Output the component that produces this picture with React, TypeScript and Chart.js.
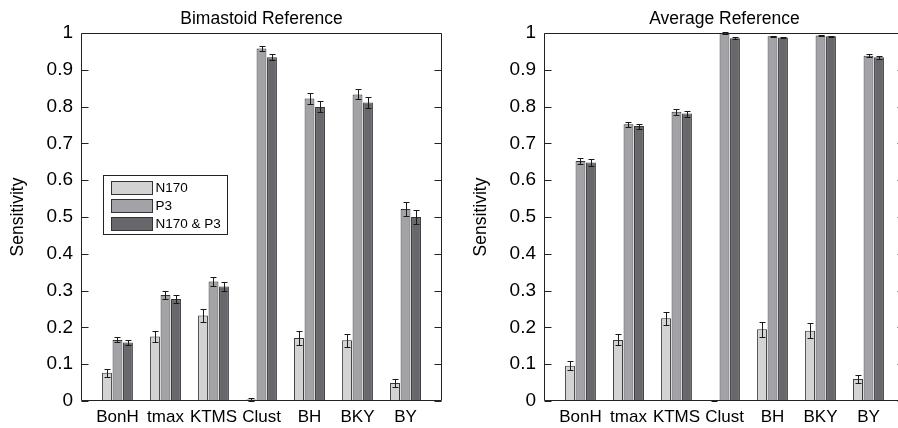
import React, { useEffect, useRef } from "react";
import { Chart, registerables } from "chart.js";

Chart.register(...registerables);

const FONT = '"Liberation Sans", Arial, Helvetica, sans-serif';

const categories = ["BonH", "tmax", "KTMS", "Clust", "BH", "BKY", "BY"];
const seriesNames = ["N170", "P3", "N170 & P3"];
const seriesColors = ["#d3d3d3", "#a3a3a7", "#67686c"];
const yTickValues = [0, 0.1, 0.2, 0.3, 0.4, 0.5, 0.6, 0.7, 0.8, 0.9, 1];
const titles = ["Bimastoid Reference", "Average Reference"];
const yAxisTitle = "Sensitivity";

// Bimastoid reference
const bimastoidN170 = [0.077, 0.175, 0.232, 0.004, 0.171, 0.165, 0.049];
const bimastoidN170Err = [0.0105, 0.016, 0.018, 0.003, 0.0195, 0.018, 0.011];
const bimastoidP3 = [0.166, 0.288, 0.325, 0.958, 0.822, 0.833, 0.522];
const bimastoidP3Err = [0.007, 0.011, 0.012, 0.007, 0.014, 0.0135, 0.018];
const bimastoidBoth = [0.159, 0.277, 0.311, 0.934, 0.799, 0.811, 0.5];
const bimastoidBothErr = [0.008, 0.0105, 0.012, 0.008, 0.015, 0.015, 0.019];

// Average reference
const averageN170 = [0.096, 0.166, 0.225, 0.001, 0.195, 0.191, 0.06];
const averageN170Err = [0.012, 0.015, 0.018, 0.001, 0.02, 0.02, 0.012];
const averageP3 = [0.652, 0.752, 0.786, 1.0, 0.991, 0.993, 0.938];
const averageP3Err = [0.009, 0.007, 0.008, 0.002, 0.002, 0.002, 0.004];
const averageBoth = [0.648, 0.747, 0.781, 0.986, 0.988, 0.991, 0.934];
const averageBothErr = [0.009, 0.007, 0.008, 0.002, 0.002, 0.002, 0.004];

const CANVAS_W = 470;
const CANVAS_H = 428;

const decorPlugin = {
  id: "decor",
  afterDatasetsDraw(chart: any, _args: any, opts: any) {
    const { ctx, chartArea: a } = chart;
    const y = chart.scales.y;
    ctx.save();
    // error bars
    ctx.strokeStyle = "#1a1a1a";
    ctx.lineWidth = 1;
    chart.data.datasets.forEach((ds: any, i: number) => {
      const meta = chart.getDatasetMeta(i);
      const errs = opts.errors[i];
      meta.data.forEach((bar: any, j: number) => {
        const v = ds.data[j].y;
        const e = errs[j];
        const cx = Math.round(bar.x) + 0.5;
        const yt = Math.round(y.getPixelForValue(v + e)) + 0.5;
        const yb = Math.round(y.getPixelForValue(Math.max(0, v - e))) + 0.5;
        ctx.beginPath();
        ctx.moveTo(cx, yt);
        ctx.lineTo(cx, yb);
        ctx.moveTo(cx - 3, yt);
        ctx.lineTo(cx + 3, yt);
        ctx.moveTo(cx - 3, yb);
        ctx.lineTo(cx + 3, yb);
        ctx.stroke();
      });
    });
    // box
    const L = Math.round(a.left) + 0.5;
    const R = Math.round(a.right) - 0.5;
    const T = Math.round(a.top) + 0.5;
    const B = Math.round(a.bottom) - 0.5;
    ctx.strokeStyle = "#222";
    ctx.lineWidth = 1;
    ctx.beginPath();
    ctx.rect(L, T, R - L, B - T);
    ctx.stroke();
    // inner ticks
    ctx.beginPath();
    yTickValues.forEach((v) => {
      const py = Math.round(y.getPixelForValue(v)) + 0.5;
      ctx.moveTo(L, py);
      ctx.lineTo(L + 7, py);
      ctx.moveTo(R, py);
      ctx.lineTo(R - 7, py);
    });
    ctx.stroke();
    // title
    ctx.fillStyle = "#000";
    ctx.font = `17.5px ${FONT}`;
    ctx.textAlign = "center";
    ctx.textBaseline = "alphabetic";
    ctx.fillText(opts.title, (a.left + a.right) / 2, 24);
    // y axis title
    ctx.save();
    ctx.translate(a.left - 63, (a.top + a.bottom) / 2);
    ctx.rotate(-Math.PI / 2);
    ctx.textBaseline = "middle";
    ctx.font = `17.5px ${FONT}`;
    ctx.fillText(yAxisTitle, 0, 0);
    ctx.restore();
    // legend
    if (opts.legend) {
      const lx = Math.round(a.left) + 22 + 0.5;
      const ly = Math.round(a.top) + 142 + 0.5;
      ctx.fillStyle = "#fff";
      ctx.fillRect(lx, ly, 124, 59);
      ctx.strokeStyle = "#222";
      ctx.strokeRect(lx, ly, 124, 59);
      ctx.font = `13.5px ${FONT}`;
      ctx.textAlign = "left";
      ctx.textBaseline = "middle";
      chart.data.datasets.forEach((ds: any, i: number) => {
        const sy = ly + 5 + i * 18.3;
        const syr = Math.round(sy) + 0.5;
        ctx.fillStyle = ds.backgroundColor;
        ctx.fillRect(lx + 8, syr, 41, 13);
        ctx.strokeStyle = "#333";
        ctx.strokeRect(lx + 8, syr, 41, 13);
        ctx.fillStyle = "#000";
        ctx.fillText(ds.label, lx + 52, syr + 7);
      });
    }
    ctx.restore();
  },
};

function Panel(props: {
  left: number;
  title: string;
  series: number[][];
  errors: number[][];
  legend: boolean;
}) {
  const ref = useRef<HTMLCanvasElement>(null);
  useEffect(() => {
    const chart = new Chart(ref.current as HTMLCanvasElement, {
      type: "bar",
      data: {
        datasets: props.series.map((vals, i) => ({
          label: seriesNames[i],
          data: vals.map((v, j) => ({ x: j + 1, y: v })),
          backgroundColor: seriesColors[i],
          borderColor: "#333",
          borderWidth: 1,
          categoryPercentage: 0.655,
          barPercentage: 0.94,
        })),
      } as any,
      options: {
        responsive: false,
        animation: false,
        devicePixelRatio: 1,
        layout: { padding: { left: 0, right: 14, top: 33, bottom: 0 } },
        plugins: {
          legend: { display: false },
          title: { display: false },
          tooltip: { enabled: false },
          decor: { errors: props.errors, title: props.title, legend: props.legend },
        } as any,
        scales: {
          x: {
            type: "linear",
            min: 0.24,
            max: 7.76,
            offset: false,
            grid: { display: false, drawTicks: false },
            border: { display: false },
            afterBuildTicks: (s: any) => {
              s.ticks = categories.map((_, i) => ({ value: i + 1 }));
            },
            afterFit: (s: any) => {
              s.height = 27;
            },
            ticks: {
              autoSkip: false,
              maxRotation: 0,
              padding: 6,
              color: "#000",
              font: { family: FONT, size: 17 },
              callback: (v: any) => categories[Math.round(Number(v)) - 1] ?? "",
            },
          },
          y: {
            min: 0,
            max: 1,
            grid: { display: false, drawTicks: false },
            border: { display: false },
            afterFit: (s: any) => {
              s.width = 95;
            },
            ticks: {
              stepSize: 0.1,
              padding: 8,
              color: "#000",
              font: { family: FONT, size: 19 },
              callback: (v: any) => String(Number(Number(v).toFixed(1))),
            },
          },
        } as any,
      },
      plugins: [decorPlugin],
    });
    return () => chart.destroy();
  }, []);
  return (
    <canvas
      ref={ref}
      width={CANVAS_W}
      height={CANVAS_H}
      style={{ position: "absolute", left: props.left, top: 0, width: CANVAS_W, height: CANVAS_H }}
    />
  );
}

export default function App() {
  return (
    <div
      style={{
        position: "absolute",
        left: 0,
        top: 0,
        width: 898,
        height: 428,
        overflow: "hidden",
        background: "#fff",
      }}
    >
      <Panel
        left={-14}
        title={titles[0]}
        series={[bimastoidN170, bimastoidP3, bimastoidBoth]}
        errors={[bimastoidN170Err, bimastoidP3Err, bimastoidBothErr]}
        legend={true}
      />
      <Panel
        left={449}
        title={titles[1]}
        series={[averageN170, averageP3, averageBoth]}
        errors={[averageN170Err, averageP3Err, averageBothErr]}
        legend={false}
      />
    </div>
  );
}
